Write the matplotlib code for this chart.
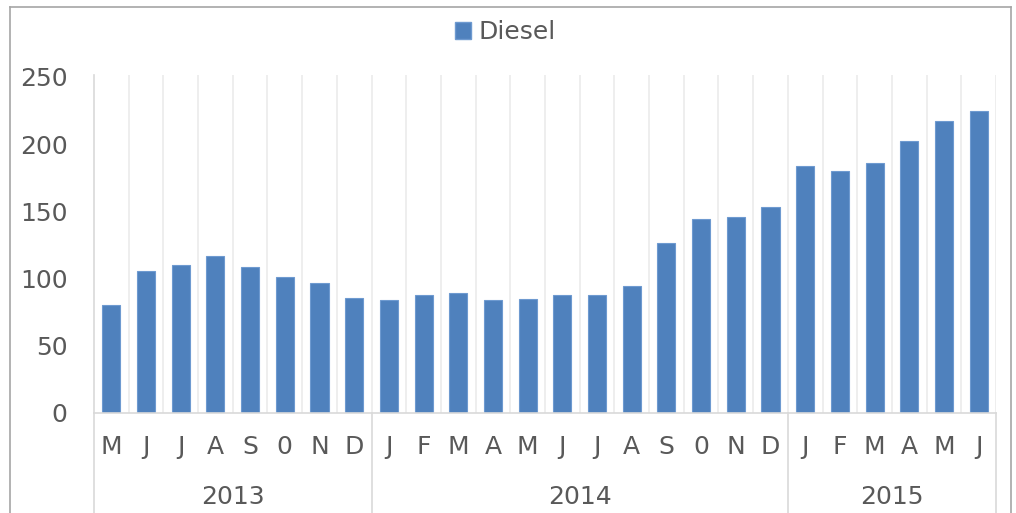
import matplotlib
matplotlib.use("Agg")
import matplotlib.pyplot as plt
from matplotlib.lines import Line2D
from matplotlib.patches import Patch
import matplotlib.transforms as mtransforms

months = ["M", "J", "J", "A", "S", "0", "N", "D",
          "J", "F", "M", "A", "M", "J", "J", "A", "S", "0", "N", "D",
          "J", "F", "M", "A", "M", "J"]
years = ["2013", "2014", "2015"]
year_counts = [8, 12, 6]
diesel = [80, 106, 110, 117, 109, 101, 96.5, 85.5,
          84, 87.5, 89, 84, 85, 87.5, 88, 94.5, 126.5, 144.5, 146, 153,
          184, 180, 186, 202.5, 217, 224.5]
yticks = [0, 50, 100, 150, 200, 250]

W, H = 1016, 513
fig = plt.figure(figsize=(W / 100, H / 100), dpi=100)
plt.rcParams['font.family'] = ['DejaVu Sans']
txtc = '#595959'
fs = 18

left, right, top, bottom = 94, 996, 75, 413
ax = fig.add_axes([left / W, 1 - bottom / H, (right - left) / W, (bottom - top) / H])
n = len(months)
x = list(range(n))
bars = ax.bar(x, diesel, width=0.52, color='#4F81BD', edgecolor='#6E9AD0',
              linewidth=0.8, zorder=3)
ax.set_xlim(-0.5, n - 0.5)
ax.set_ylim(0, (bottom - top) / ((bottom - 77) / 250))
ax.set_yticks(yticks)
ax.set_yticklabels([str(v) for v in yticks], fontsize=fs, color=txtc)
ax.tick_params(axis='y', length=0, pad=19)
ax.set_xticks([])
for s in ['top', 'right']:
    ax.spines[s].set_visible(False)
ax.spines['left'].set_color('#d9d9d9')
ax.spines['left'].set_linewidth(1.2)
ax.spines['bottom'].set_color('#d9d9d9')
ax.spines['bottom'].set_linewidth(1.2)
ax.spines['bottom'].set_zorder(4)

# vertical category grid lines
for i in range(n):
    ax.axvline(i + 0.5, color='#ebebeb', linewidth=1.2, zorder=1)

trans = mtransforms.blended_transform_factory(ax.transData, ax.transAxes)
ph = bottom - top
def yfrac(py):
    return (bottom - py) / ph

for i, m in enumerate(months):
    ax.text(i, yfrac(447), m, transform=trans, ha='center', va='center',
            fontsize=fs, color=txtc)

start = -0.5
bounds = [start]
for yr, c in zip(years, year_counts):
    mid = start + c / 2
    ax.text(mid, yfrac(497), yr, transform=trans, ha='center', va='center',
            fontsize=fs, color=txtc)
    start += c
    bounds.append(start)
for b in bounds:
    ax.add_line(Line2D([b, b], [0, yfrac(520)], transform=trans, color='#d9d9d9',
                       linewidth=1.2, clip_on=False))

# legend
handle = Patch(facecolor='#4F81BD', edgecolor='#6E9AD0', label='Diesel')
leg = fig.legend(handles=[handle], loc='center', bbox_to_anchor=(505 / W, 1 - 32 / H),
                 frameon=False, fontsize=fs, handlelength=0.65, handleheight=0.65,
                 handletextpad=0.3, borderaxespad=0)
for t in leg.get_texts():
    t.set_color(txtc)

# outer frame
fc = '#a6a6a6'
fig.add_artist(Line2D([9.5 / W, 1010.5 / W], [1 - 7 / H, 1 - 7 / H], color=fc, linewidth=1.2))
fig.add_artist(Line2D([9.5 / W, 9.5 / W], [1 - 7 / H, 0], color=fc, linewidth=1.2))
fig.add_artist(Line2D([1010.5 / W, 1010.5 / W], [1 - 7 / H, 0], color=fc, linewidth=1.2))

fig.savefig('out.png', dpi=100)
